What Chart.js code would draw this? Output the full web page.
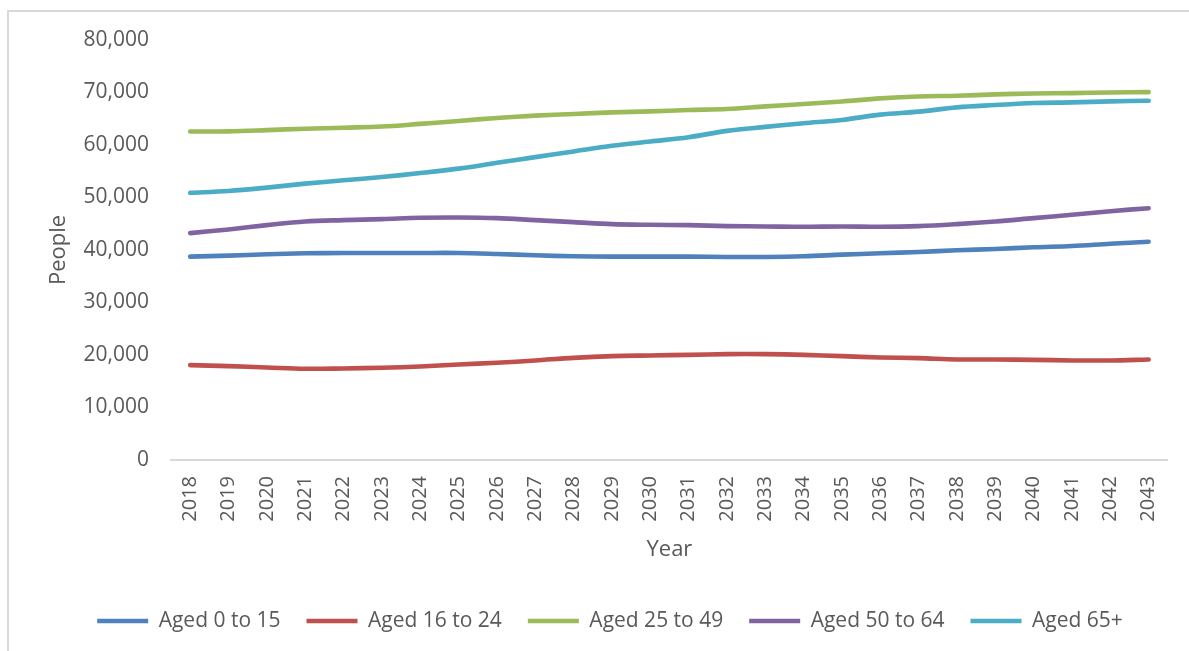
<!DOCTYPE html>
<html>
<head>
<meta charset="utf-8">
<script src="https://cdn.jsdelivr.net/npm/chart.js@4"></script>
<style>
  html, body { margin: 0; padding: 0; background: #fff; overflow: hidden; }
  #wrap { position: relative; width: 1189px; height: 651px; }
  #frame { position: absolute; left: 7px; top: 10px; width: 1300px; height: 800px; border: 2px solid #d9d9d9; box-sizing: border-box; pointer-events: none; }
  canvas { position: absolute; left: 0; top: 0; }
</style>
</head>
<body>
<div id="wrap">
  <canvas id="c" width="1189" height="651"></canvas>
  <div id="frame"></div>
</div>
<script>
const years = ['2018','2019','2020','2021','2022','2023','2024','2025','2026','2027','2028','2029','2030','2031','2032','2033','2034','2035','2036','2037','2038','2039','2040','2041','2042','2043'];
const aged0to15  = [38740, 38930, 39180, 39370, 39430, 39430, 39430, 39430, 39240, 38990, 38800, 38740, 38740, 38740, 38670, 38670, 38800, 39110, 39370, 39620, 39940, 40190, 40510, 40760, 41200, 41580];
const aged16to24 = [18070, 17880, 17630, 17380, 17440, 17570, 17820, 18200, 18520, 18960, 19460, 19780, 19910, 20030, 20160, 20160, 20030, 19780, 19530, 19400, 19150, 19150, 19080, 18960, 18960, 19150];
const aged25to49 = [62560, 62600, 62830, 63100, 63300, 63510, 64020, 64580, 65150, 65590, 65910, 66220, 66400, 66670, 66860, 67360, 67800, 68300, 68880, 69250, 69380, 69640, 69820, 69890, 70000, 70080];
const aged50to64 = [43220, 43920, 44740, 45430, 45690, 45880, 46130, 46190, 46070, 45690, 45310, 44930, 44800, 44740, 44550, 44490, 44420, 44490, 44420, 44550, 44930, 45430, 46070, 46700, 47390, 47960];
const aged65plus = [50900, 51240, 51880, 52640, 53270, 53900, 54650, 55500, 56600, 57690, 58770, 59840, 60660, 61480, 62690, 63450, 64140, 64770, 65780, 66350, 67170, 67610, 68000, 68120, 68310, 68440];
const seriesNames = ['Aged 0 to 15', 'Aged 16 to 24', 'Aged 25 to 49', 'Aged 50 to 64', 'Aged 65+'];
const seriesColors = ['#4f81bd', '#c0504d', '#9bbb59', '#8064a2', '#4bacc6'];
const seriesData = [aged0to15, aged16to24, aged25to49, aged50to64, aged65plus];

const FONT = "'Open Sans', 'Liberation Sans', sans-serif";
const TXT = '#595959';

const legendShift = {
  id: 'legendShift',
  afterLayout(chart) {
    if (chart.legend) { chart.legend.left += 20; chart.legend.right += 20; }
  }
};

new Chart(document.getElementById('c'), {
  type: 'line',
  data: {
    labels: years,
    datasets: seriesNames.map((n, i) => ({
      label: n,
      data: seriesData[i],
      borderColor: seriesColors[i],
      backgroundColor: seriesColors[i],
      borderWidth: 4.6,
      borderCapStyle: 'round',
      borderJoinStyle: 'round',
      pointRadius: 0,
      pointHoverRadius: 0,
      tension: 0.35,
      fill: false
    }))
  },
  options: {
    responsive: false,
    animation: false,
    events: [],
    layout: { padding: { left: 9, right: 18, top: 40, bottom: 9.5 } },
    scales: {
      x: {
        offset: true,
        grid: { display: false, drawTicks: false },
        border: { display: true, color: '#d9d9d9', width: 2 },
        ticks: {
          autoSkip: false, minRotation: 90, maxRotation: 90, padding: 16,
          color: TXT, font: { family: FONT, size: 20 }
        },
        title: { display: true, text: 'Year', color: TXT, font: { family: FONT, size: 22 }, padding: { top: 0, bottom: 22 } },
        afterFit(s) { s.height = 124.5; }
      },
      y: {
        min: 0, max: 80000,
        grid: { display: false, drawTicks: false },
        border: { display: false },
        ticks: {
          stepSize: 10000, padding: 22, color: TXT,
          font: { family: FONT, size: 21 },
          callback: v => v.toLocaleString('en-US')
        },
        title: { display: true, text: 'People', color: TXT, font: { family: FONT, size: 22 }, padding: { top: 37, bottom: 0 } },
        afterFit(s) { s.width = 162; }
      }
    },
    plugins: {
      legend: {
        position: 'bottom',
        labels: {
          usePointStyle: true, pointStyle: 'line', pointStyleWidth: 51,
          padding: 26, color: TXT, font: { family: FONT, size: 21 }
        }
      },
      tooltip: { enabled: false }
    }
  },
  plugins: [legendShift]
});
</script>
</body>
</html>
